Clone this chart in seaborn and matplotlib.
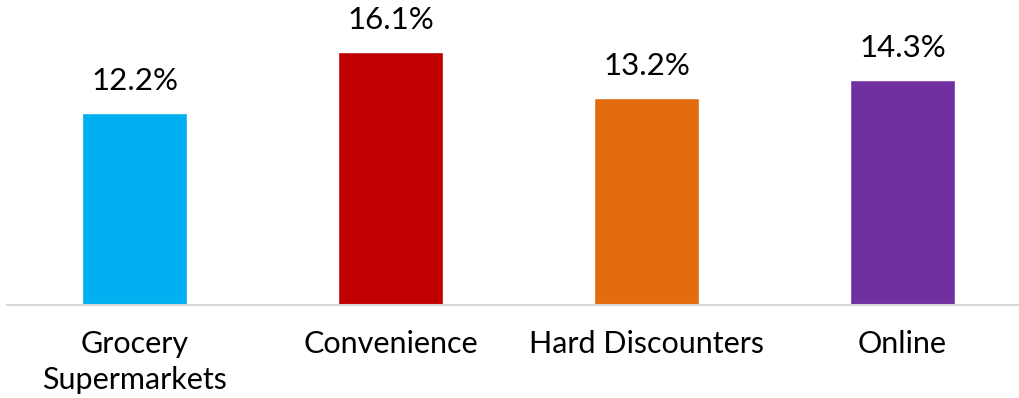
import matplotlib
matplotlib.use("Agg")
import matplotlib.pyplot as plt
import seaborn as sns
import pandas as pd

# Channel growth figures
categories = ["Grocery\nSupermarkets", "Convenience", "Hard Discounters", "Online"]
growth = [12.2, 16.1, 13.2, 14.3]
colors = ["#00B0F0", "#C00000", "#E36C0E", "#7030A0"]

df = pd.DataFrame({"channel": categories, "growth": growth})

sns.set_theme(style="white")
plt.rcParams["font.family"] = ["Lato", "DejaVu Sans"]

fig = plt.figure(figsize=(10.19, 3.98), dpi=100)
ax = fig.add_axes([6.5 / 1019, 93 / 398, 1024 / 1019, 300 / 398])

sns.barplot(data=df, x="channel", y="growth", hue="channel", palette=colors,
            legend=False, width=0.41, saturation=1, ax=ax)

ax.set_xlim(-0.5, 3.5)
ax.set_ylim(0, 300 / 15.7)

for i, v in enumerate(growth):
    ax.annotate(f"{v:.1f}%", (i, v), xytext=(0, 13), textcoords="offset points",
                ha="center", va="bottom", fontsize=22.5, color="#000000")

for s in ["top", "left", "right"]:
    ax.spines[s].set_visible(False)
ax.spines["bottom"].set_color("#D9D9D9")
ax.spines["bottom"].set_linewidth(1.5)

ax.set_yticks([])
ax.set_xlabel("")
ax.set_ylabel("")
ax.tick_params(axis="x", length=0, pad=18, labelsize=22, labelcolor="#000000")
for lbl in ax.get_xticklabels():
    lbl.set_linespacing(1.35)

fig.savefig("out.png", dpi=100, facecolor="white")
